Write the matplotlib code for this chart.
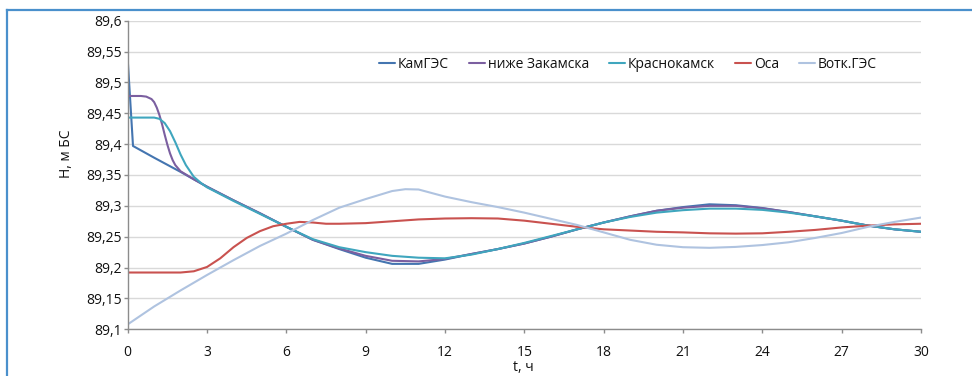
import matplotlib
matplotlib.use("Agg")
import matplotlib.pyplot as plt
from matplotlib.lines import Line2D
from matplotlib.ticker import FuncFormatter, MultipleLocator

plt.rcParams['font.family'] = ['Open Sans', 'DejaVu Sans']

# --- water level series, H (m BS) versus time t (h) ---
t_kam = [0, 0.2, 1, 2, 3, 4, 5, 6, 7, 8, 9, 10, 11, 12, 13, 14, 15, 16, 17, 18,
         19, 20, 21, 22, 23, 24, 25, 26, 27, 28, 29, 30]
h_kam = [89.537, 89.397, 89.378, 89.355, 89.331, 89.309, 89.288, 89.266, 89.245,
         89.230, 89.216, 89.206, 89.206, 89.213, 89.222, 89.230, 89.239, 89.250,
         89.262, 89.273, 89.283, 89.292, 89.298, 89.3025, 89.301, 89.2965,
         89.290, 89.283, 89.276, 89.268, 89.262, 89.258]

t_zak = [0, 0.5, 0.7, 0.9, 1.0, 1.1, 1.2, 1.3, 1.4, 1.5, 1.6, 1.7, 1.8, 2.0, 2.5,
         3, 4, 5, 6, 7, 8, 9, 10, 11, 12, 13, 14, 15, 16, 17, 18, 19, 20, 21,
         22, 23, 24, 25, 26, 27, 28, 29, 30]
h_zak = [89.478, 89.478, 89.477, 89.473, 89.468, 89.459, 89.447, 89.432, 89.415,
         89.399, 89.385, 89.374, 89.366, 89.356, 89.343, 89.331, 89.309, 89.288,
         89.266, 89.245, 89.231, 89.219, 89.211, 89.210, 89.214, 89.222, 89.230,
         89.239, 89.250, 89.262, 89.273, 89.283, 89.292, 89.297, 89.300, 89.300,
         89.296, 89.290, 89.283, 89.276, 89.268, 89.262, 89.258]

t_kras = [0, 0.5, 1.0, 1.2, 1.4, 1.6, 1.8, 2.0, 2.2, 2.5, 2.8, 3, 4, 5, 6, 7, 8,
          9, 10, 11, 12, 13, 14, 15, 16, 17, 18, 19, 20, 21, 22, 23, 24, 25, 26,
          27, 28, 29, 30]
h_kras = [89.443, 89.443, 89.443, 89.441, 89.434, 89.421, 89.403, 89.383, 89.366,
          89.347, 89.336, 89.330, 89.308, 89.287, 89.266, 89.246, 89.233, 89.225,
          89.219, 89.216, 89.215, 89.221, 89.230, 89.240, 89.251, 89.262, 89.273,
          89.282, 89.289, 89.293, 89.2955, 89.2955, 89.2935, 89.289, 89.283,
          89.276, 89.268, 89.262, 89.258]

t_osa = [0, 1, 2, 2.5, 3, 3.5, 4, 4.5, 5, 5.5, 6, 6.5, 7, 7.5, 8, 9, 10, 11, 12,
         13, 14, 15, 16, 17, 18, 19, 20, 21, 22, 23, 24, 25, 26, 27, 28, 29, 30]
h_osa = [89.192, 89.192, 89.192, 89.194, 89.201, 89.215, 89.233, 89.248, 89.259,
         89.267, 89.271, 89.274, 89.273, 89.271, 89.271, 89.272, 89.275, 89.278,
         89.2795, 89.280, 89.2795, 89.276, 89.271, 89.266, 89.262, 89.260, 89.258,
         89.257, 89.2555, 89.255, 89.2555, 89.258, 89.261, 89.265, 89.268, 89.270,
         89.271]

t_votk = [0, 1, 2, 3, 4, 5, 6, 7, 8, 9, 10, 10.5, 11, 12, 13, 14, 15, 16, 17, 18,
          19, 20, 21, 22, 23, 24, 25, 26, 27, 28, 29, 30]
h_votk = [89.108, 89.137, 89.163, 89.188, 89.212, 89.235, 89.255, 89.277, 89.297,
          89.311, 89.324, 89.327, 89.3265, 89.315, 89.306, 89.298, 89.289, 89.279,
          89.269, 89.257, 89.245, 89.237, 89.233, 89.232, 89.2335, 89.2365,
          89.241, 89.248, 89.256, 89.266, 89.274, 89.281]

series_names = ["КамГЭС", "ниже Закамска", "Краснокамск", "Оса", "Вотк.ГЭС"]
series_colors = ["#4475B0", "#7B5FA0", "#3FA6BE", "#C9524F", "#AFC3E0"]

x_ticks = list(range(0, 31, 3))
y_min, y_max, y_step = 89.1, 89.6, 0.05

fig = plt.figure(figsize=(9.72, 3.76), dpi=100)
ax = fig.add_axes([0.1314, 0.1242, 0.8161, 0.8208])

series = [(t_kam, h_kam), (t_zak, h_zak), (t_kras, h_kras),
          (t_osa, h_osa), (t_votk, h_votk)]
for (tt, hh), name, col in zip(series, series_names, series_colors):
    ax.plot(tt, hh, color=col, lw=1.5, label=name, solid_capstyle='round',
            solid_joinstyle='round', zorder=3)

ax.set_xlim(0, 30)
ax.set_ylim(y_min, y_max)
ax.set_xticks(x_ticks)
ax.yaxis.set_major_locator(MultipleLocator(y_step))


def comma_fmt(v, pos):
    s = f"{v:.2f}".rstrip('0').rstrip('.')
    return s.replace('.', ',')


ax.yaxis.set_major_formatter(FuncFormatter(comma_fmt))

ax.grid(axis='y', color='#D9D9D9', lw=1.0, zorder=0)
ax.grid(axis='x', visible=False)
for side in ('top', 'right'):
    ax.spines[side].set_visible(False)
for side in ('left', 'bottom'):
    ax.spines[side].set_color('#8C8C8C')
    ax.spines[side].set_linewidth(1.0)
ax.spines['left'].set_zorder(4)

ax.tick_params(axis='y', direction='out', length=3.2, width=1.0,
               color='#8C8C8C', pad=1.2, labelsize=10, labelcolor='#111111')
ax.tick_params(axis='x', direction='out', length=3.0, width=1.0,
               color='#8C8C8C', pad=8.5, labelsize=10, labelcolor='#111111')

fig.text(66 / 972, 1 - 154 / 376, "H, м БС", rotation=90, ha='center',
         va='center', fontsize=10, color='#111111')
fig.text(523 / 972, 1 / 376, "t, ч", ha='center', va='bottom',
         fontsize=10, color='#111111')

leg = ax.legend(loc='center left', bbox_to_anchor=(379 / 972, 1 - 64 / 376),
                bbox_transform=fig.transFigure, ncol=5, frameon=False,
                fontsize=10, handlelength=1.15, handletextpad=0.2,
                columnspacing=1.45, borderpad=0, borderaxespad=0)
for txt in leg.get_texts():
    txt.set_color('#111111')

# selection frame around the chart object
frame_col = '#4A90CC'
fig.add_artist(Line2D([7 / 972, 1.0], [1 - 9.5 / 376, 1 - 9.5 / 376],
                      transform=fig.transFigure, color=frame_col, lw=1.6))
fig.add_artist(Line2D([7 / 972, 7 / 972], [1 - 9.5 / 376, 0.0],
                      transform=fig.transFigure, color=frame_col, lw=1.6))

fig.savefig("out.png", dpi=100)
